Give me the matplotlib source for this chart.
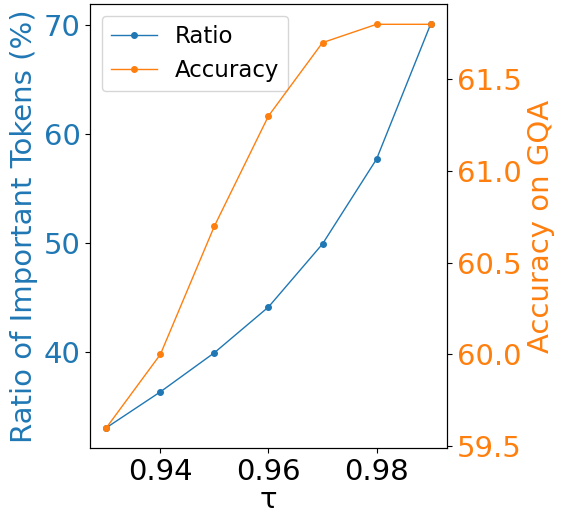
import matplotlib
matplotlib.use('Agg')
import matplotlib.pyplot as plt

tau = [0.93, 0.94, 0.95, 0.96, 0.97, 0.98, 0.99]
ratio = [33.0, 36.3, 39.9, 44.1, 49.9, 57.7, 70.1]
accuracy = [59.6, 60.0, 60.7, 61.3, 61.7, 61.8, 61.8]

blue = '#1f77b4'
orange = '#ff7f0e'
fs = 21

fig, ax1 = plt.subplots(figsize=(5.67, 5.16), dpi=100)
l1, = ax1.plot(tau, ratio, color=blue, marker='o', markersize=4, linewidth=1, label='Ratio')
ax1.set_xlabel('τ', fontsize=fs, labelpad=0)
ax1.set_ylabel('Ratio of Important Tokens (%)', color=blue, fontsize=fs)
ax1.tick_params(axis='y', labelcolor=blue, labelsize=fs)
ax1.tick_params(axis='x', labelsize=fs)
ax1.set_xticks([0.94, 0.96, 0.98])

ax2 = ax1.twinx()
l2, = ax2.plot(tau, accuracy, color=orange, marker='o', markersize=4, linewidth=1, label='Accuracy')
ax2.set_ylabel('Accuracy on GQA', color=orange, fontsize=fs)
ax2.tick_params(axis='y', labelcolor=orange, labelsize=fs)
ax2.set_yticks([59.5, 60.0, 60.5, 61.0, 61.5])

ax1.legend(handles=[l1, l2], loc='upper left', fontsize=16.5)

fig.subplots_adjust(left=0.159, right=0.788, top=0.992, bottom=0.132)
fig.savefig('out.png')
